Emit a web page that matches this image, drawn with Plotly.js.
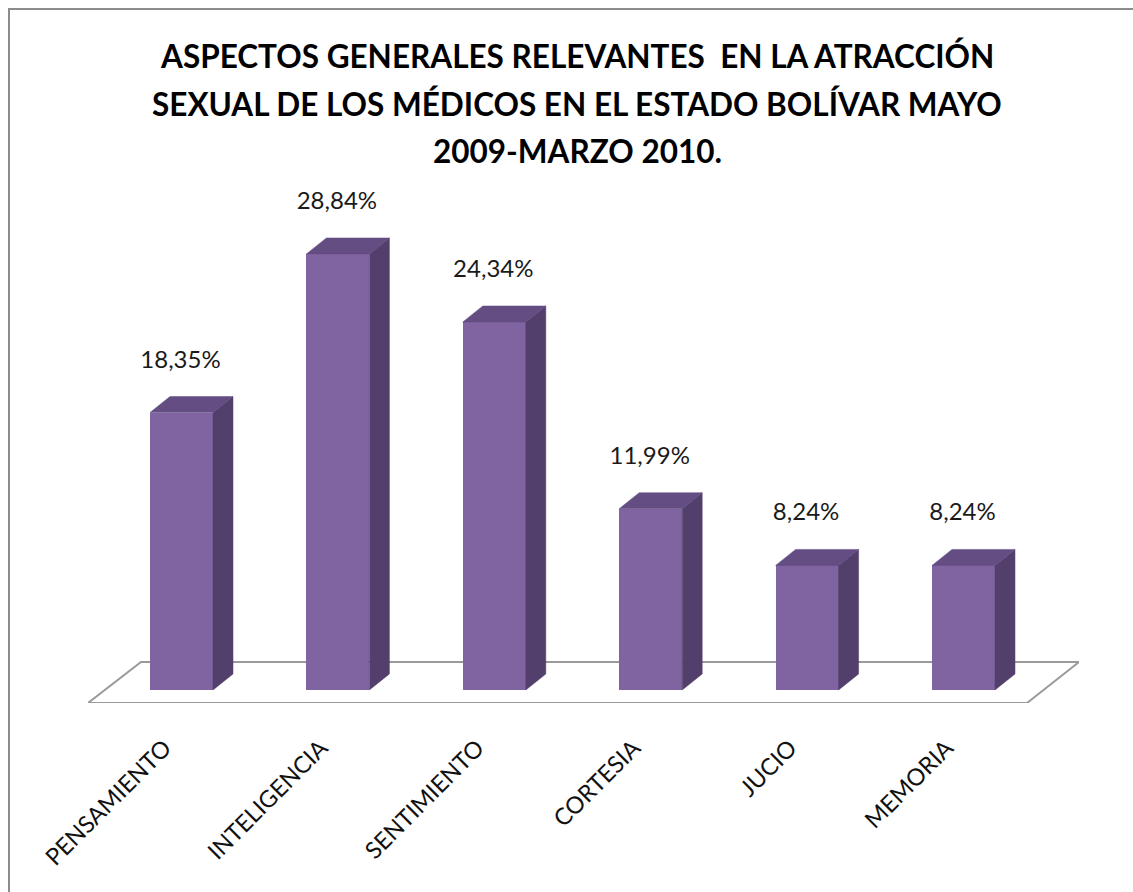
<!DOCTYPE html>
<html>
<head>
<meta charset="utf-8">
<script src="https://cdn.plot.ly/plotly-3.0.1.min.js"></script>
<style>html,body{margin:0;padding:0;background:#fff;}#chart{width:1133px;height:892px;}</style>
</head>
<body>
<div id="chart"></div>
<script>
const categories = ["PENSAMIENTO", "INTELIGENCIA", "SENTIMIENTO", "CORTESIA", "JUCIO", "MEMORIA"];
const values = [18.35, 28.84, 24.34, 11.99, 8.24, 8.24];
const valueLabels = ["18,35%", "28,84%", "24,34%", "11,99%", "8,24%", "8,24%"];
const titleLines = [
  "ASPECTOS GENERALES RELEVANTES  EN LA ATRACCIÓN",
  "SEXUAL DE LOS MÉDICOS EN EL ESTADO BOLÍVAR MAYO",
  "2009-MARZO 2010."
];

// geometry (pixels)
const W = 1133, H = 892;
const mL = 88, mR = 54, mT = 180, mB = 189;
const plotW = W - mL - mR, plotH = H - mT - mB;
const pxPerX = 156.4, pxPerY = 15.12;
const xr0 = -(181.5 - mL) / pxPerX;
const xr1 = xr0 + plotW / pxPerX;
const yr0 = -13 / pxPerY;
const yr1 = yr0 + plotH / pxPerY;
const barW = 63 / pxPerX;
const dX = 20 / pxPerX, dY = 16 / pxPerY;
const labelOff = 51 / pxPerY;
const tickShift = 17 / pxPerX;

const xs = categories.map((c, i) => i);

const frontColor = '#8064A2', sideColor = '#523F6B', topColor = '#634D83';

const sideX = [], sideY = [], topX = [], topY = [];
xs.forEach((x, i) => {
  const v = values[i], r = x + barW / 2, l = x - barW / 2;
  sideX.push(r, r + dX, r + dX, r, r, null);
  sideY.push(0, dY, v + dY, v, 0, null);
  topX.push(l, r, r + dX, l + dX, l, null);
  topY.push(v, v, v + dY, v + dY, v, null);
});

const traces = [
  {type: 'bar', x: xs, y: values, width: barW, marker: {color: frontColor, line: {width: 0}},
   hoverinfo: 'skip', showlegend: false},
  {type: 'scatter', mode: 'lines', x: sideX, y: sideY, fill: 'toself', fillcolor: sideColor,
   line: {width: 0.5, color: sideColor}, hoverinfo: 'skip', showlegend: false},
  {type: 'scatter', mode: 'lines', x: topX, y: topY, fill: 'toself', fillcolor: topColor,
   line: {width: 0.5, color: topColor}, hoverinfo: 'skip', showlegend: false},
  {type: 'scatter', mode: 'text', x: xs.map(x => x - 1 / pxPerX), y: values.map(v => v + labelOff), text: valueLabels,
   textposition: 'middle center', textfont: {family: 'Lato, sans-serif', size: 24, color: '#1a1a1a'},
   hoverinfo: 'skip', showlegend: false, cliponaxis: false}
];

// floor parallelogram (pixels -> data)
const fx = p => xr0 + (p - mL) / pxPerX;
const fy = p => yr0 + (H - mB - p) / pxPerY;
const floorPath = `M ${fx(88)},${fy(703)} L ${fx(1027)},${fy(703)} L ${fx(1079)},${fy(662)} L ${fx(141)},${fy(662)} Z`;

const px2paperX = p => (p - mL) / plotW;
const px2paperY = p => (H - mB - p) / plotH;

const layout = {
  width: W, height: H,
  margin: {l: mL, r: mR, t: mT, b: mB, pad: 0},
  paper_bgcolor: '#fff', plot_bgcolor: 'rgba(0,0,0,0)',
  xaxis: {range: [xr0, xr1], tickvals: xs.map(x => x - tickShift), ticktext: categories, tickangle: -45,
          showgrid: false, zeroline: false, showline: false,
          ticks: 'outside', ticklen: 21, tickcolor: 'rgba(0,0,0,0)',
          tickfont: {family: 'Lato, sans-serif', size: 23.5, color: '#111'}, fixedrange: true},
  yaxis: {range: [yr0, yr1], visible: false, fixedrange: true},
  shapes: [
    {type: 'path', xref: 'x', yref: 'y', path: floorPath, line: {color: '#9a9a9a', width: 2}, fillcolor: 'rgba(0,0,0,0)', layer: 'below'},
    {type: 'rect', xref: 'paper', yref: 'paper', x0: px2paperX(9), x1: px2paperX(1300), y0: px2paperY(1000), y1: px2paperY(9),
     line: {color: '#8c8c8c', width: 2}, fillcolor: 'rgba(0,0,0,0)', layer: 'below'}
  ],
  annotations: titleLines.map((t, i) => ({
    text: t, xref: 'paper', yref: 'paper', x: px2paperX(577), y: px2paperY([56, 104, 151][i]),
    xanchor: 'center', yanchor: 'middle', showarrow: false,
    font: {family: 'Lato, sans-serif', size: 31.5, color: '#000', weight: 'bold'}
  })),
  bargap: 0
};

Plotly.newPlot('chart', traces, layout, {staticPlot: true});
</script>
</body>
</html>
